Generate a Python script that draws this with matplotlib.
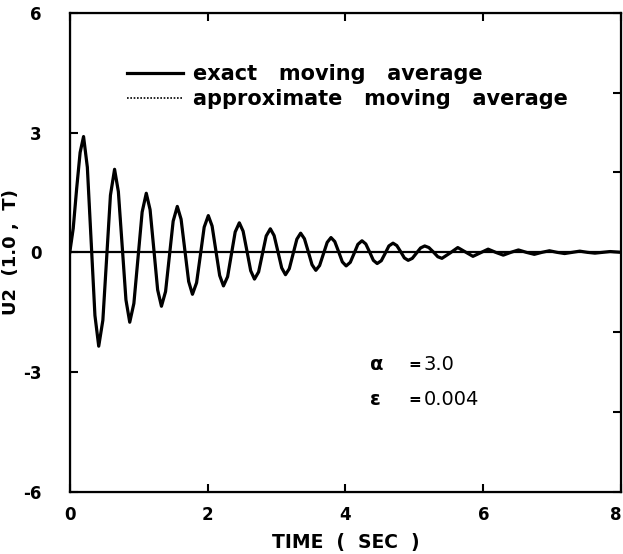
import matplotlib
matplotlib.use('Agg')
import matplotlib.pyplot as plt

plt.rcParams['font.family'] = ['DejaVu Sans']
plt.rcParams['axes.unicode_minus'] = False

# time axis (sec)
t = [0.0, 0.05, 0.10, 0.15, 0.20,
     0.255, 0.31, 0.365, 0.42,
     0.48, 0.535, 0.59, 0.65,
     0.705, 0.76, 0.815, 0.87,
     0.93, 0.99, 1.05, 1.11,
     1.165, 1.22, 1.275, 1.33,
     1.39, 1.445, 1.50, 1.56,
     1.615, 1.67, 1.725, 1.78,
     1.84, 1.895, 1.95, 2.01,
     2.065, 2.12, 2.175, 2.23,
     2.29, 2.345, 2.40, 2.46,
     2.515, 2.57, 2.625, 2.68,
     2.74, 2.795, 2.85, 2.91,
     2.965, 3.02, 3.075, 3.13,
     3.185, 3.24, 3.295, 3.35,
     3.405, 3.46, 3.515, 3.57,
     3.625, 3.68, 3.735, 3.79,
     3.845, 3.90, 3.955, 4.01,
     4.07, 4.125, 4.18, 4.24,
     4.295, 4.35, 4.405, 4.46,
     4.52, 4.575, 4.63, 4.69,
     4.745, 4.80, 4.855, 4.91,
     4.97, 5.03, 5.09, 5.15,
     5.21, 5.275, 5.34, 5.40,
     5.515, 5.63, 5.74, 5.85, 5.96, 6.07, 6.18, 6.29, 6.40, 6.51, 6.625,
     6.74, 6.85, 6.96, 7.07, 7.18, 7.29, 7.40, 7.51, 7.62, 7.73, 7.84, 8.0]

# U2(1.0, T) - exact moving average
u_exact = [0.0, 0.6, 1.6, 2.5, 2.90,
           2.13, 0.28, -1.58, -2.35,
           -1.70, -0.14, 1.43, 2.08,
           1.52, 0.17, -1.19, -1.75,
           -1.28, -0.14, 1.01, 1.48,
           1.07, 0.07, -0.94, -1.35,
           -0.98, -0.10, 0.78, 1.15,
           0.83, 0.05, -0.73, -1.05,
           -0.76, -0.07, 0.63, 0.92,
           0.66, 0.04, -0.58, -0.84,
           -0.61, -0.05, 0.51, 0.74,
           0.53, 0.04, -0.46, -0.67,
           -0.49, -0.04, 0.41, 0.59,
           0.42, 0.02, -0.39, -0.56,
           -0.41, -0.04, 0.33, 0.48,
           0.34, 0.02, -0.31, -0.45,
           -0.33, -0.04, 0.25, 0.37,
           0.27, 0.02, -0.24, -0.34,
           -0.25, -0.03, 0.20, 0.29,
           0.21, 0.01, -0.20, -0.28,
           -0.21, -0.03, 0.16, 0.23,
           0.17, 0.02, -0.14, -0.20,
           -0.15, -0.02, 0.11, 0.16,
           0.12, 0.01, -0.11, -0.15,
           -0.02, 0.12, 0.01, -0.10, -0.01, 0.08, 0.0, -0.07, 0.0, 0.06, 0.0,
           -0.05, 0.0, 0.04, 0.0, -0.03, 0.0, 0.03, 0.0, -0.02, 0.0, 0.02, 0.0]

# approximate moving average - lies on top of the exact curve in the picture
u_approx = list(u_exact)

x_ticks = [0, 2, 4, 6, 8]
y_ticks = [-6, -3, 0, 3, 6]
y_ticks_right = [-6, -4, -2, 0, 2, 4, 6]

fig = plt.figure(figsize=(6.23, 5.54), dpi=100)
ax = fig.add_axes([0.112, 0.112, 0.885, 0.865])

ax.axhline(0, color='black', lw=1.6, zorder=1)
ax.plot(t, u_exact, color='black', lw=2.3, solid_joinstyle='round',
        label='exact   moving   average', zorder=3)
ax.plot(t, u_approx, color='black', lw=1.2, ls=(0, (1, 1)),
        label='approximate   moving   average', zorder=4)

ax.set_xlim(0, 8)
ax.set_ylim(-6, 6)
ax.set_xticks(x_ticks)
ax.set_yticks(y_ticks)
ax.tick_params(direction='in', length=6, width=1.5, labelsize=12,
               top=True)
ax.tick_params(axis='y', pad=20)
ax.tick_params(axis='x', pad=10)
for lab in ax.get_xticklabels() + ax.get_yticklabels():
    lab.set_fontweight('bold')
# last x label sits at the figure edge; keep it inside
ax.get_xticklabels()[-1].set_horizontalalignment('right')
for sp in ax.spines.values():
    sp.set_linewidth(1.6)

# right side has its own ticks every 2 units, no labels
ax2 = ax.twinx()
ax2.set_ylim(-6, 6)
ax2.set_yticks(y_ticks_right)
ax2.tick_params(direction='in', length=6, width=1.5, labelright=False)

ax.set_xlabel('TIME  (  SEC  )', fontsize=13.5, fontweight='bold')
ax.xaxis.set_label_coords(0.5, -0.085)
ax.set_ylabel('U2  (1.0 ,  T)', fontsize=13, fontweight='bold')
ax.yaxis.set_label_coords(-0.09, 0.5)

leg = ax.legend(loc='upper left', bbox_to_anchor=(0.085, 0.915), frameon=False,
                prop={'size': 15, 'weight': 'bold'}, handlelength=2.7,
                handletextpad=0.45, labelspacing=0.25, borderpad=0)

ax.text(4.35, -2.8, '\u03b1', fontsize=14, fontweight='bold', va='center')
ax.text(4.92, -2.8, '=', fontsize=11, fontweight='bold', va='center')
ax.text(5.13, -2.8, '3.0', fontsize=14, va='center')
ax.text(4.35, -3.68, '\u03b5', fontsize=14, fontweight='bold', va='center')
ax.text(4.92, -3.68, '=', fontsize=11, fontweight='bold', va='center')
ax.text(5.13, -3.68, '0.004', fontsize=14, va='center')

plt.savefig('out.png', dpi=100)
